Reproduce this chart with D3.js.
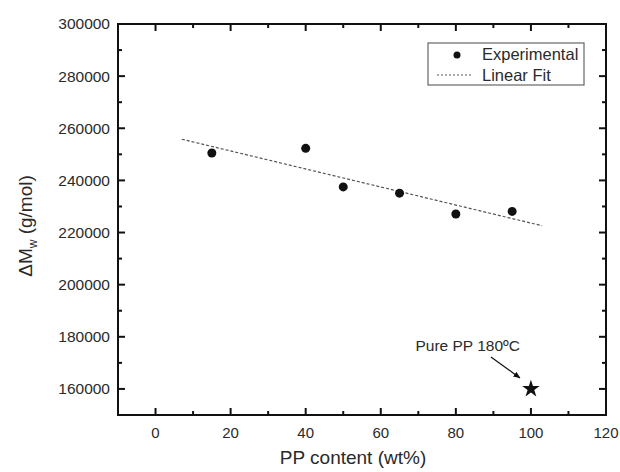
<!DOCTYPE html>
<html>
<head>
<meta charset="utf-8">
<script src="https://cdn.jsdelivr.net/npm/d3@7"></script>
<style>
  body { margin: 0; background: #fff; }
  text { font-family: "Liberation Sans", Arial, sans-serif; fill: #2a2a2a; }
</style>
</head>
<body>
<svg id="chart" width="620" height="472"></svg>
<script>
// data
var ppContent = [15, 40, 50, 65, 80, 95];
var deltaMw = [250500, 252300, 237500, 235100, 227100, 228100];

// linear fit endpoints
var fitX = [7, 103];
var fitY = [255800, 222600];

// pure PP reference point
var pureX = [100];
var pureY = [160000];

var xTicks = [0, 20, 40, 60, 80, 100, 120];
var yTicks = [160000, 180000, 200000, 220000, 240000, 260000, 280000, 300000];
var xMinor = [-10, 10, 30, 50, 70, 90, 110];
var yMinor = [150000, 170000, 190000, 210000, 230000, 250000, 270000, 290000];

var svg = d3.select("#chart"),
    margin = {top: 24, right: 14, bottom: 57, left: 118},
    width = +svg.attr("width") - margin.left - margin.right,
    height = +svg.attr("height") - margin.top - margin.bottom;

var x = d3.scaleLinear().domain([-10, 120]).range([0, width]);
var y = d3.scaleLinear().domain([150000, 300000]).range([height, 0]);

var g = svg.append("g")
    .attr("transform", "translate(" + margin.left + "," + margin.top + ")");

// inward ticks on all four sides
var tk = g.append("g").attr("stroke", "#111").attr("stroke-width", 2);
function xTickMarks(vals, len) {
    tk.selectAll(null).data(vals).enter().append("line")
        .attr("x1", function(d) { return x(d); }).attr("x2", function(d) { return x(d); })
        .attr("y1", height).attr("y2", height - len);
    tk.selectAll(null).data(vals).enter().append("line")
        .attr("x1", function(d) { return x(d); }).attr("x2", function(d) { return x(d); })
        .attr("y1", 0).attr("y2", len);
}
function yTickMarks(vals, len) {
    tk.selectAll(null).data(vals).enter().append("line")
        .attr("y1", function(d) { return y(d); }).attr("y2", function(d) { return y(d); })
        .attr("x1", 0).attr("x2", len);
    tk.selectAll(null).data(vals).enter().append("line")
        .attr("y1", function(d) { return y(d); }).attr("y2", function(d) { return y(d); })
        .attr("x1", width).attr("x2", width - len);
}
xTickMarks(xTicks, 7);
xTickMarks(xMinor, 4);
yTickMarks(yTicks, 7);
yTickMarks(yMinor, 4);

// tick labels
g.selectAll(".xlab").data(xTicks).enter().append("text")
    .attr("x", function(d) { return x(d); })
    .attr("y", height + 23)
    .attr("text-anchor", "middle")
    .attr("font-size", "15px")
    .text(function(d) { return d; });

g.selectAll(".ylab").data(yTicks).enter().append("text")
    .attr("x", -8)
    .attr("y", function(d) { return y(d); })
    .attr("dy", "0.35em")
    .attr("text-anchor", "end")
    .attr("font-size", "15.5px")
    .text(function(d) { return d; });

// frame
g.append("rect")
    .attr("width", width).attr("height", height)
    .attr("fill", "none").attr("stroke", "#111").attr("stroke-width", 2);

// axis titles
svg.append("text")
    .attr("x", 353).attr("y", 464)
    .attr("text-anchor", "middle").attr("font-size", "19px")
    .text("PP content (wt%)");

var yt = svg.append("text")
    .attr("transform", "translate(32,226) rotate(-90)")
    .attr("text-anchor", "middle").attr("font-size", "19px");
yt.append("tspan").text("\u0394M");
yt.append("tspan").attr("font-size", "12px").attr("dy", "5").text("w");
yt.append("tspan").attr("dy", "-5").text(" (g/mol)");

// fit line
g.append("line")
    .attr("x1", x(fitX[0])).attr("y1", y(fitY[0]))
    .attr("x2", x(fitX[1])).attr("y2", y(fitY[1]))
    .attr("stroke", "#555").attr("stroke-width", 1.2)
    .attr("stroke-dasharray", "3,2");

// experimental points
g.selectAll(".pt").data(ppContent).enter().append("circle")
    .attr("cx", function(d) { return x(d); })
    .attr("cy", function(d, i) { return y(deltaMw[i]); })
    .attr("r", 4.5)
    .attr("fill", "#111");

// star for pure PP
g.selectAll(".star").data(pureX).enter().append("path")
    .attr("d", d3.symbol().type(d3.symbolStar).size(95))
    .attr("transform", function(d, i) { return "translate(" + x(d) + "," + y(pureY[i]) + ")"; })
    .attr("fill", "#111");

// annotation
svg.append("defs").append("marker")
    .attr("id", "arr").attr("viewBox", "0 0 10 10")
    .attr("refX", 9).attr("refY", 5)
    .attr("markerWidth", 6).attr("markerHeight", 6)
    .attr("orient", "auto")
    .append("path").attr("d", "M0,1 L10,5 L0,9 Z").attr("fill", "#111");

g.append("line")
    .attr("x1", x(pureX[0]) - 40).attr("y1", y(pureY[0]) - 32)
    .attr("x2", x(pureX[0]) - 11).attr("y2", y(pureY[0]) - 11)
    .attr("stroke", "#111").attr("stroke-width", 1.2)
    .attr("marker-end", "url(#arr)");

g.append("text")
    .attr("x", x(pureX[0]) - 11).attr("y", y(pureY[0]) - 38)
    .attr("text-anchor", "end").attr("font-size", "15.5px")
    .text("Pure PP 180\u00baC");

// legend
var lg = svg.append("g").attr("transform", "translate(428,43)");
lg.append("rect").attr("width", 156).attr("height", 42)
    .attr("fill", "#fff").attr("stroke", "#666").attr("stroke-width", 1.2);
lg.append("circle").attr("cx", 29).attr("cy", 12).attr("r", 3.5).attr("fill", "#111");
lg.append("line").attr("x1", 9).attr("x2", 44).attr("y1", 32).attr("y2", 32)
    .attr("stroke", "#555").attr("stroke-width", 1).attr("stroke-dasharray", "2,2");
lg.append("text").attr("x", 54).attr("y", 17).attr("font-size", "16.5px").text("Experimental");
lg.append("text").attr("x", 54).attr("y", 38).attr("font-size", "16.5px").text("Linear Fit");
</script>
</body>
</html>
